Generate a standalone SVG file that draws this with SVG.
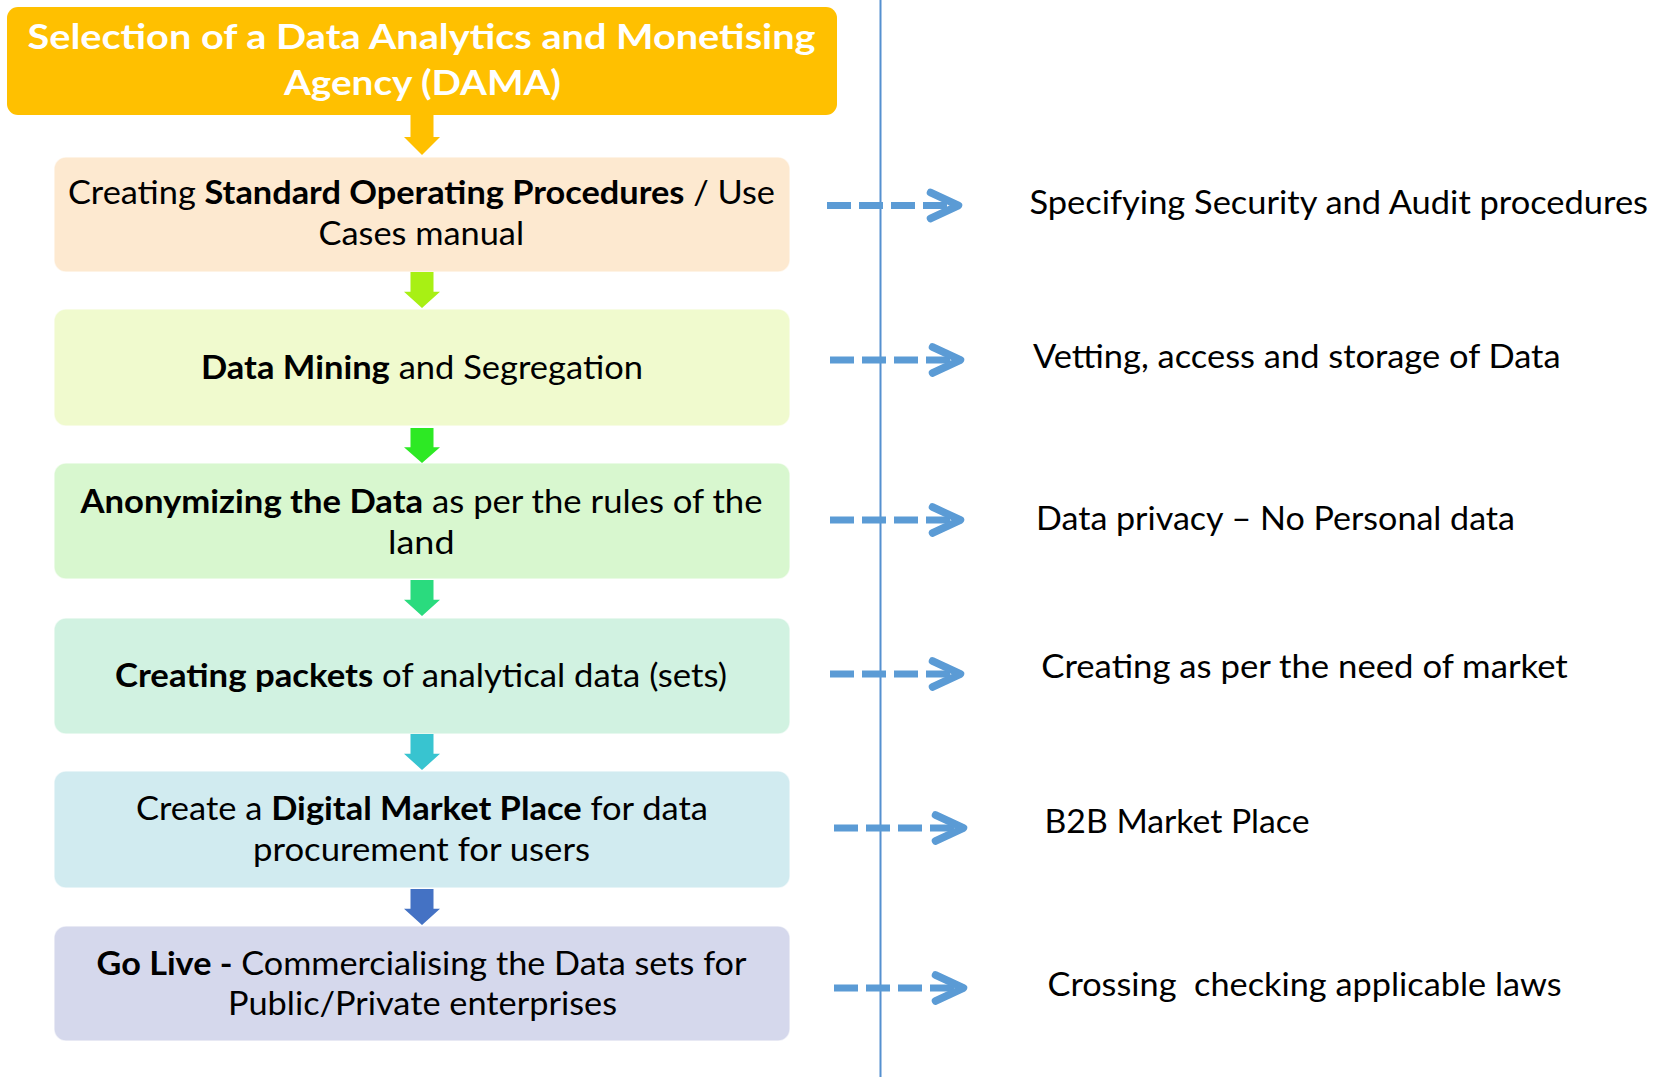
<svg xmlns="http://www.w3.org/2000/svg" width="1661" height="1077" viewBox="0 0 1661 1077">
  <style>
    text { font-family: Lato, "Liberation Sans", sans-serif; fill: #000; }
    .title { font-size: 34px; font-weight: 700; fill: #fff; }
    .step { font-size: 32px; font-weight: 400; }
    .b { font-weight: 700; }
    .note { font-size: 33.5px; font-weight: 400; }
    .box { stroke: #ffffff; stroke-opacity: 0.6; stroke-width: 1.5; }
    .dash { fill: none; stroke: #5B9BD5; stroke-width: 7; stroke-dasharray: 24 8; }
    .chev { fill: none; stroke: #5B9BD5; stroke-width: 7.5; stroke-linecap: round; stroke-linejoin: round; }
    .divider { stroke: #5590D0; stroke-width: 2; }
  </style>
  <defs>
    <!-- block arrow pointing down, tip at (0,0) -->
    <path id="downArrow" d="M-11.5,-40 H11.5 V-18 H18 L0,0 L-18,-18 H-11.5 Z"/>
  </defs>

  <rect width="1661" height="1077" fill="#ffffff"/>

  <!-- vertical divider -->
  <line class="divider" x1="880.5" y1="0" x2="880.5" y2="1077"/>

  <!-- header -->
  <g id="header">
    <rect x="7" y="7" width="830" height="108" rx="11" fill="#FFC000"/>
    <text class="title" x="27.5" y="48.5" textLength="788" lengthAdjust="spacingAndGlyphs">Selection of a Data Analytics and Monetising</text>
    <text class="title" x="284" y="95" textLength="277" lengthAdjust="spacingAndGlyphs">Agency (DAMA)</text>
  </g>

  <!-- steps -->
  <g id="step-sop">
    <rect class="box" x="54" y="157" width="736" height="115" rx="12" fill="#FDE9D0"/>
    <text class="step" x="68" y="204" textLength="707" lengthAdjust="spacingAndGlyphs">Creating <tspan class="b">Standard Operating Procedures</tspan> / Use</text>
    <text class="step" x="318.5" y="245" textLength="205.5" lengthAdjust="spacingAndGlyphs">Cases manual</text>
  </g>

  <g id="step-mining">
    <rect class="box" x="54" y="309" width="736" height="117" rx="12" fill="#F0FACE"/>
    <text class="step" x="201" y="378.5" textLength="442" lengthAdjust="spacingAndGlyphs"><tspan class="b">Data Mining</tspan> and Segregation</text>
  </g>

  <g id="step-anonymize">
    <rect class="box" x="54" y="463" width="736" height="116" rx="12" fill="#D8F7CF"/>
    <text class="step" x="80.5" y="513" textLength="682" lengthAdjust="spacingAndGlyphs"><tspan class="b">Anonymizing the Data</tspan> as per the rules of the</text>
    <text class="step" x="388" y="554" textLength="66.5" lengthAdjust="spacingAndGlyphs">land</text>
  </g>

  <g id="step-packets">
    <rect class="box" x="54" y="618" width="736" height="116" rx="12" fill="#D1F2E1"/>
    <text class="step" x="115" y="687" textLength="612" lengthAdjust="spacingAndGlyphs"><tspan class="b">Creating packets</tspan> of analytical data (sets)</text>
  </g>

  <g id="step-marketplace">
    <rect class="box" x="54" y="771" width="736" height="117" rx="12" fill="#D1EBF0"/>
    <text class="step" x="136" y="820" textLength="572" lengthAdjust="spacingAndGlyphs">Create a <tspan class="b">Digital Market Place</tspan> for data</text>
    <text class="step" x="253" y="861" textLength="337" lengthAdjust="spacingAndGlyphs">procurement for users</text>
  </g>

  <g id="step-golive">
    <rect class="box" x="54" y="926" width="736" height="115" rx="12" fill="#D5D8EC"/>
    <text class="step" x="96.5" y="975" textLength="650" lengthAdjust="spacingAndGlyphs"><tspan class="b">Go Live -</tspan> Commercialising the Data sets for</text>
    <text class="step" x="228" y="1015" textLength="389" lengthAdjust="spacingAndGlyphs">Public/Private enterprises</text>
  </g>

  <!-- side notes -->
  <g id="note-security">
    <text class="note" x="1029.5" y="213.5" textLength="618.5" lengthAdjust="spacingAndGlyphs">Specifying Security and Audit procedures</text>
  </g>
  <g id="note-vetting">
    <text class="note" x="1033" y="368" textLength="527.5" lengthAdjust="spacingAndGlyphs">Vetting, access and storage of Data</text>
  </g>
  <g id="note-privacy">
    <text class="note" x="1036" y="530" textLength="479" lengthAdjust="spacingAndGlyphs">Data privacy – No Personal data</text>
  </g>
  <g id="note-market-need">
    <text class="note" x="1041.3" y="678" textLength="526.5" lengthAdjust="spacingAndGlyphs">Creating as per the need of market</text>
  </g>
  <g id="note-b2b">
    <text class="note" x="1044.5" y="833" textLength="265" lengthAdjust="spacingAndGlyphs">B2B Market Place</text>
  </g>
  <g id="note-laws">
    <text class="note" x="1047.6" y="996" textLength="514" lengthAdjust="spacingAndGlyphs" xml:space="preserve">Crossing  checking applicable laws</text>
  </g>

  <!-- connectors -->
  <g id="connectors">
    <!-- flow arrows between steps -->
    <use href="#downArrow" transform="translate(422,155) scale(1,1)" fill="#FFC000"/>
    <use href="#downArrow" transform="translate(422,308) scale(1,0.9)" fill="#A8F014"/>
    <use href="#downArrow" transform="translate(422,463) scale(1,0.875)" fill="#2DE924"/>
    <use href="#downArrow" transform="translate(422,616) scale(1,0.9)" fill="#2ADB7E"/>
    <use href="#downArrow" transform="translate(422,770) scale(1,0.9)" fill="#38C4D0"/>
    <use href="#downArrow" transform="translate(422,925) scale(1,0.9)" fill="#4472C4"/>

    <!-- dashed arrows to side notes -->
    <path class="dash" d="M827,205.5 H958"/>
    <polyline class="chev" points="930.5,192.5 958.5,205.5 930.5,218.5"/>

    <path class="dash" d="M830,360 H960"/>
    <polyline class="chev" points="932.5,347 960.5,360 932.5,373"/>

    <path class="dash" d="M830,520 H960"/>
    <polyline class="chev" points="932.5,507 960.5,520 932.5,533"/>

    <path class="dash" d="M830,674 H960"/>
    <polyline class="chev" points="932.5,661 960.5,674 932.5,687"/>

    <path class="dash" d="M834,828 H963"/>
    <polyline class="chev" points="935.5,815 963.5,828 935.5,841"/>

    <path class="dash" d="M834,988 H963"/>
    <polyline class="chev" points="935.5,975 963.5,988 935.5,1001"/>
  </g>
</svg>
